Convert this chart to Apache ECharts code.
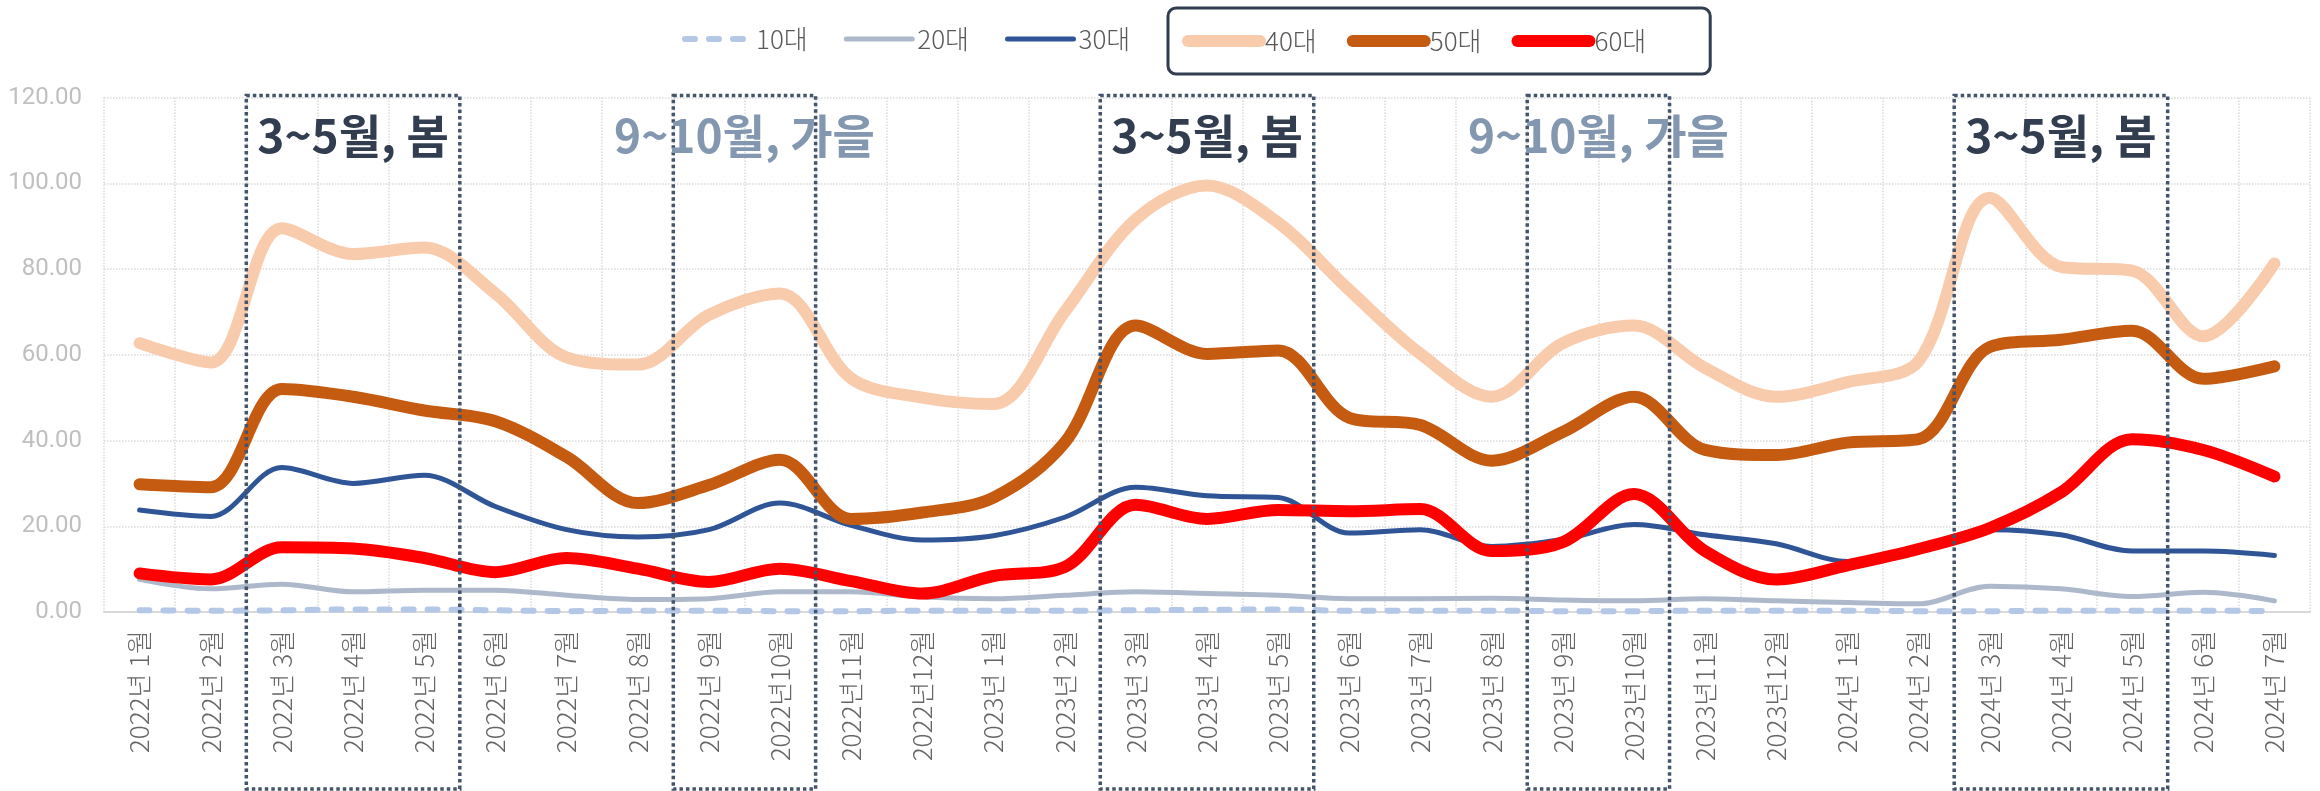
<!DOCTYPE html>
<html>
<head>
<meta charset="utf-8">
<title>연령대별 월별 추이</title>
<script src="https://cdn.jsdelivr.net/npm/echarts@6/dist/echarts.min.js"></script>
<style>
  html, body { margin: 0; padding: 0; background: #fff; }
  #myChart { width: 2320px; height: 791px; }
</style>
</head>
<body>
<div id="myChart"></div>
<script>
// 월 (x축)
var months = [
  '2022년 1월','2022년 2월','2022년 3월','2022년 4월','2022년 5월','2022년 6월',
  '2022년 7월','2022년 8월','2022년 9월','2022년10월','2022년11월','2022년12월',
  '2023년 1월','2023년 2월','2023년 3월','2023년 4월','2023년 5월','2023년 6월',
  '2023년 7월','2023년 8월','2023년 9월','2023년10월','2023년11월','2023년12월',
  '2024년 1월','2024년 2월','2024년 3월','2024년 4월','2024년 5월','2024년 6월',
  '2024년 7월'
];

// 연령대별 값
var age10 = [0.4,0.3,0.4,0.6,0.6,0.4,0.2,0.3,0.3,0.2,0.2,0.3,0.3,0.3,0.4,0.5,0.6,0.3,0.3,0.3,0.2,0.2,0.3,0.3,0.3,0.2,0.2,0.3,0.3,0.3,0.2];
var age20 = [7.6,5.4,6.5,4.7,5.1,5.1,3.9,2.9,3.1,4.7,4.7,3.5,3.1,3.9,4.7,4.3,3.9,3.1,3.1,3.2,2.8,2.6,3.1,2.6,2.2,1.9,6.0,5.4,3.6,4.6,2.6];
var age30 = [23.8,22.3,33.7,30.0,31.9,24.6,19.2,17.5,19.2,25.4,20.2,16.8,17.8,22.1,29.1,27.1,26.7,18.4,19.2,15.3,16.9,20.4,18.0,15.9,11.8,15.2,19.2,18.0,14.2,14.2,13.2];
var age40 = [62.7,58.2,89.5,83.5,85.0,74.3,59.4,57.7,69.3,74.3,54.5,50.0,48.5,70.0,91.6,99.5,90.8,75.1,60.2,50.2,62.7,66.8,56.9,50.2,53.6,58.5,96.6,80.5,79.6,64.3,81.3];
var age50 = [29.8,29.1,52.0,50.2,47.0,44.5,36.2,25.4,29.6,35.5,21.7,23.2,26.7,39.5,66.8,60.2,61.0,45.3,43.6,35.3,42.0,50.2,37.8,36.6,39.5,40.3,61.8,63.5,65.6,54.4,57.3];
var age60 = [9.0,7.6,15.1,14.8,12.6,9.3,12.6,10.1,7.0,10.1,7.2,4.3,8.4,10.5,25.0,21.7,23.8,23.5,24.0,14.2,16.3,27.5,14.2,7.6,10.9,14.7,19.6,27.9,40.3,37.8,31.6];

// y축 눈금
var yMin = 0, yMax = 120, yStep = 20;

// 계절 표시 구간
var seasons = [
  { from: '2022년 3월', to: '2022년 5월', text: '3~5월, 봄', color: '#323E50' },
  { from: '2022년 9월', to: '2022년10월', text: '9~10월, 가을', color: '#8497B0' },
  { from: '2023년 3월', to: '2023년 5월', text: '3~5월, 봄', color: '#323E50' },
  { from: '2023년 9월', to: '2023년10월', text: '9~10월, 가을', color: '#8497B0' },
  { from: '2024년 3월', to: '2024년 5월', text: '3~5월, 봄', color: '#323E50' }
];

var FONT = '"Noto Sans CJK KR", "Noto Sans", sans-serif';

function makeLine(name, data, color, width, type){
  return {
    name: name,
    type: 'line',
    data: data,
    smooth: 0.33,
    symbol: 'none',
    lineStyle: { color: color, width: width, type: type || 'solid', cap: 'round', join: 'round' },
    itemStyle: { color: color }
  };
}

var legendText = { color: '#595959', fontSize: 26, fontFamily: FONT, fontWeight: 300 };

var option = {
  backgroundColor: '#fff',
  animation: false,
  legend: [
    {
      data: ['10대','20대','30대'],
      left: 682, top: 26,
      itemWidth: 66, itemHeight: 20, itemGap: 36,
      padding: 0,
      itemStyle: { opacity: 0 },
      lineStyle: { width: 'inherit' },
      textStyle: legendText
    },
    {
      data: ['40대','50대','60대'],
      left: 1168, top: 8,
      itemWidth: 72, itemHeight: 20, itemGap: 30,
      padding: [20, 64, 20, 14],
      borderColor: '#333F50', borderWidth: 3, borderRadius: 8,
      itemStyle: { opacity: 0 },
      lineStyle: { width: 'inherit' },
      textStyle: legendText
    }
  ],
  grid: { left: 104, right: 10, top: 97.5, bottom: 179, containLabel: false },
  xAxis: {
    type: 'category',
    data: months,
    boundaryGap: true,
    axisLine: { lineStyle: { color: '#D9D9D9', width: 2 } },
    axisTick: { show: false },
    axisLabel: { interval: 0, rotate: 90, margin: 18, color: '#666666', fontSize: 26, fontWeight: 300, fontFamily: FONT },
    splitLine: { show: true, interval: 0, lineStyle: { color: '#D9D9D9', width: 1.5, type: 'dotted' } }
  },
  yAxis: {
    type: 'value',
    min: yMin, max: yMax, interval: yStep,
    axisLine: { show: false },
    axisTick: { show: false },
    axisLabel: {
      margin: 22, color: '#BFBFBF', fontSize: 24, fontFamily: 'Roboto, sans-serif',
      formatter: function(v){ return v.toFixed(2); }
    },
    splitLine: { lineStyle: { color: '#D9D9D9', width: 1.5, type: 'dotted' } }
  },
  series: [
    makeLine('10대', age10, '#B4C7E7', 6, [10, 14]),
    makeLine('20대', age20, '#ADB9CA', 5),
    makeLine('30대', age30, '#2F5597', 5),
    makeLine('40대', age40, '#F8CBAD', 12),
    makeLine('50대', age50, '#C55A11', 12),
    makeLine('60대', age60, '#FF0000', 12)
  ]
};

var myChart = echarts.init(document.getElementById('myChart'), null, { renderer: 'canvas' });
myChart.setOption(option);

// 계절 박스는 축 좌표로부터 계산
function drawSeasons(){
  var x0 = myChart.convertToPixel({ xAxisIndex: 0 }, 0);
  var band = myChart.convertToPixel({ xAxisIndex: 0 }, 1) - x0;
  var top = myChart.convertToPixel({ yAxisIndex: 0 }, yMax);
  var bottom = myChart.getHeight() - 2;
  var els = [];
  seasons.forEach(function(s){
    var left = myChart.convertToPixel({ xAxisIndex: 0 }, months.indexOf(s.from)) - band / 2;
    var right = myChart.convertToPixel({ xAxisIndex: 0 }, months.indexOf(s.to)) + band / 2;
    els.push({
      type: 'rect', silent: true, z: 100,
      shape: { x: left, y: top - 2, width: right - left, height: bottom - top + 2 },
      style: { fill: null, stroke: '#44546A', lineWidth: 3.5, lineDash: [3.5, 3] }
    });
    els.push({
      type: 'text', silent: true, z: 101,
      x: (left + right) / 2, y: top + 38,
      style: {
        text: s.text, fill: s.color,
        fontSize: 46, fontWeight: 'bold', fontFamily: FONT,
        align: 'center', verticalAlign: 'middle'
      }
    });
  });
  myChart.setOption({ graphic: els });
}
drawSeasons();
</script>
</body>
</html>
